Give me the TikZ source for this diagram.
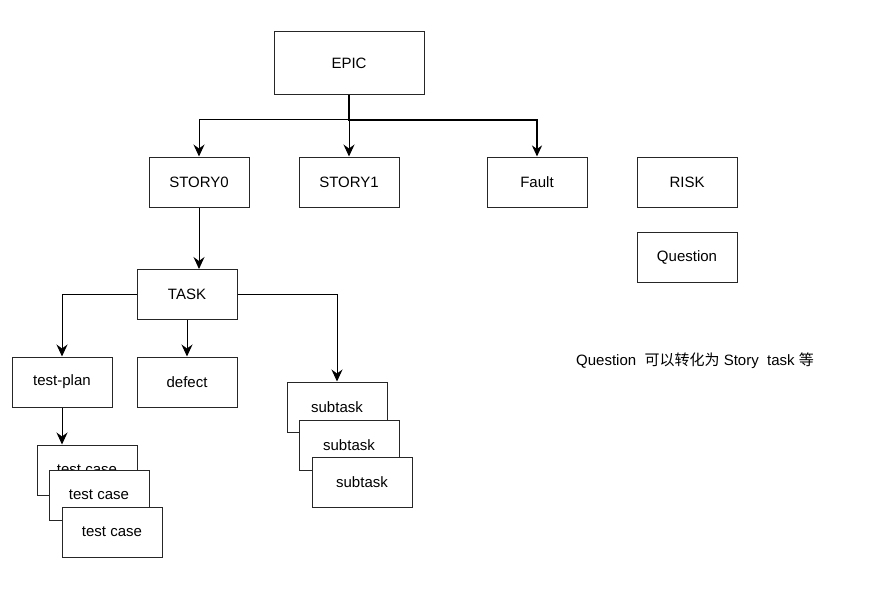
\documentclass[tikz,border=0pt]{standalone}
\usepackage{fontspec}
\setmainfont{Liberation Sans}
\newfontfamily\cjk{Noto Sans CJK SC}
\usetikzlibrary{arrows.meta}
\begin{document}
\begin{tikzpicture}[x=1pt,y=-1pt,
  box/.style={draw=black!85,line width=1pt,fill=white,minimum width=100pt,minimum height=50pt,inner sep=0pt,font=\fontsize{15}{17}\selectfont},
  conn/.style={line width=1pt,-{Stealth[length=12pt,width=11pt,inset=4pt]}},
  thickconn/.style={line width=2pt,-{Stealth[length=11pt,width=10pt,inset=3.5pt]}}]
\useasboundingbox (0,0) rectangle (872,615);
\node[box,minimum width=150pt,minimum height=63pt] (epic) at (349,63.5) {EPIC};
\node[box] (s0) at (199,182) {STORY0};
\node[box] (s1) at (349,182) {STORY1};
\node[box] (fault) at (537,182) {Fault};
\node[box] (risk) at (687,182) {RISK};
\node[box] (q) at (687,257) {Question};
\node[box] (task) at (187,294.5) {TASK};
\node[box] (tp) at (62,382) {test-plan};
\node[box] (defect) at (187,382) {defect};
\node[box] (st1) at (337,407) {subtask};
\node[box] (st2) at (349,445) {subtask};
\node[box] (st3) at (362,482) {subtask};
\node[box] (tc1) at (87,470) {test case};
\node[box] (tc2) at (99,495) {test case};
\node[box] (tc3) at (112,532) {test case};
\node[font=\fontsize{15}{17}\selectfont,inner sep=0pt] (note) at (695,361) {Question\ \ {\cjk 可以转化为} Story\ \ task {\cjk 等}};
\coordinate (j1) at (349,120);
\draw[conn] (epic.south) -- (j1) -| (s0.north);
\draw[conn] (epic.south) -- (s1.north);
\draw[thickconn] (epic.south) -- (j1) -| (fault.north);
\draw[conn] (s0.south) -- (task.north -| s0.south);
\draw[conn] (task.west) -| (tp.north);
\draw[conn] (task.south) -- (defect.north);
\draw[conn] (task.east) -| (st1.north);
\draw[conn] (tp.south) -- (tc1.north -| tp.south);
\end{tikzpicture}
\end{document}
